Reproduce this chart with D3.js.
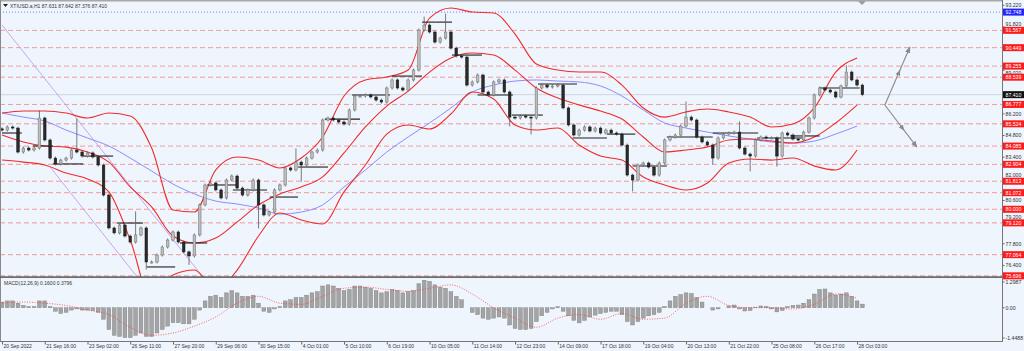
<!DOCTYPE html>
<html>
<head>
<meta charset="utf-8">
<title>XTIUSD.a,H1</title>
<script src="https://d3js.org/d3.v7.min.js"></script>
<style>
  body { margin: 0; padding: 0; overflow: hidden; background: #eef5fd; }
  text { font-family: "Liberation Sans", Arial, sans-serif; fill: #333; }
</style>
</head>
<body>
<script>
// H1 closes, one value per slot (every ~5 hours of the original)
var firstOpen = 85.2;
var closes = [
  85.12, 85.32, 85.25, 83.70, 83.96, 83.83, 83.96, 85.90, 84.48, 83.31,
  82.93, 83.18, 83.31, 83.83, 83.70, 83.44, 83.64, 83.38, 82.86, 80.92,
  78.79, 78.47, 78.98, 78.27, 77.88, 78.34, 78.79, 76.59, 76.59, 77.04,
  77.56, 78.01, 78.53, 77.88, 77.24, 76.98, 78.34, 80.28, 81.57, 81.70,
  81.25, 80.73, 81.89, 82.15, 81.37, 80.92, 81.25, 81.89, 80.28, 79.63,
  79.82, 81.25, 81.57, 82.67, 82.54, 83.05, 82.86, 83.31, 83.70, 83.83,
  85.77, 85.90, 85.77, 85.64, 85.51, 86.42, 87.32, 87.32, 87.39, 87.26,
  87.06, 86.93, 87.84, 88.36, 87.84, 87.71, 88.36, 89.00, 91.59, 91.91,
  91.46, 90.81, 91.07, 91.46, 90.42, 89.91, 89.84, 88.03, 88.23, 88.68,
  87.58, 87.39, 88.23, 88.36, 87.58, 85.96, 85.90, 86.03, 85.96, 85.90,
  87.84, 88.03, 87.90, 87.97, 88.03, 86.55, 85.45, 84.80, 85.12, 85.32,
  85.06, 85.25, 84.93, 85.12, 84.93, 84.86, 84.15, 82.21, 81.89, 82.86,
  82.99, 82.73, 82.21, 82.99, 84.48, 84.67, 84.80, 85.38, 85.96, 85.77,
  84.67, 84.35, 84.15, 83.31, 84.61, 84.86, 84.93, 84.99, 83.96, 83.57,
  83.44, 84.48, 84.67, 84.61, 84.61, 83.44, 84.93, 84.80, 84.54, 84.48,
  84.99, 85.90, 87.39, 87.84, 87.71, 87.58, 87.26, 87.97, 88.87, 88.36,
  88.03, 87.41
];
// extreme wicks [slot, price]
var wicks = [
  [7, 86.29], [14, 85.77], [25, 79.76], [27, 76.20], [35, 76.50], [48, 78.85],
  [55, 83.83], [56, 81.89], [79, 92.36], [83, 92.56], [95, 85.45], [99, 84.93],
  [118, 81.25], [128, 86.87], [133, 82.99], [138, 85.58], [140, 82.54],
  [145, 82.86], [158, 89.20]
];

// Bollinger bands and blue moving average, one value every 4 slots
var bandStep = 4;
var bbUpper = [
  86.22, 86.35, 86.35, 86.22, 85.90, 86.22, 86.03, 83.96, 79.95, 79.82,
  82.54, 83.38, 83.18, 82.67, 83.31, 84.67, 87.32, 88.36, 88.55, 89.00,
  92.36, 93.01, 92.75, 92.69, 91.33, 89.39, 89.00, 88.87, 88.87, 88.03,
  86.55, 85.96, 86.29, 86.48, 86.29, 85.96, 85.32, 85.51, 86.55, 88.87,
  89.78
];
var bbMiddle = [
  84.80, 84.35, 84.09, 84.02, 83.70, 83.05, 81.44, 80.15, 78.27, 77.82,
  78.14, 79.18, 80.28, 80.99, 81.44, 82.09, 83.64, 85.32, 86.67, 87.64,
  88.87, 89.78, 90.10, 89.97, 89.00, 87.84, 87.19, 86.74, 86.35, 85.83,
  84.67, 83.70, 83.83, 84.02, 84.48, 84.54, 84.41, 84.28, 84.67, 85.58,
  86.74
];
var bbLower = [
  83.18, 83.05, 82.86, 82.34, 81.96, 81.12, 78.01, 74.13, 75.75, 76.07,
  74.78, 76.07, 78.27, 79.76, 79.31, 79.05, 81.12, 82.86, 84.86, 85.45,
  85.19, 86.16, 87.58, 87.13, 85.45, 85.12, 85.25, 84.15, 83.44, 83.18,
  82.09, 81.57, 81.25, 81.70, 82.99, 83.25, 83.18, 83.31, 82.80, 82.54,
  83.83
];
var maBlue = [
  86.22, 85.96, 85.71, 85.12, 84.61, 84.09, 83.31, 82.47, 81.63, 80.99,
  80.53, 80.34, 80.08, 79.69, 79.82, 80.28, 81.44, 82.54, 83.70, 84.67,
  85.58, 86.55, 87.58, 88.03, 88.29, 88.36, 88.29, 88.23, 87.97, 87.32,
  86.42, 85.58, 85.25, 84.99, 84.74, 84.54, 84.35, 84.28, 84.41, 84.86,
  85.38
];

// daily open segments [fromSlot, toSlot, price]
var dayLines = [
  [0, 3.7, 84.93], [5.8, 9.5, 84.09], [9.5, 15.2, 82.93], [15.2, 20.8, 83.44],
  [21.5, 26.4, 79.11], [27.1, 32.4, 76.27], [33.3, 38.4, 77.82], [38.4, 44, 81.57],
  [43.2, 49.6, 81.25], [50.1, 55.4, 80.79], [55.4, 61, 82.73], [60.4, 67, 85.83],
  [65.5, 72.6, 87.39], [73, 78.6, 88.61], [78.6, 84.2, 92.10], [84.2, 89.8, 89.97],
  [89, 95.6, 87.39], [95.4, 101.2, 86.09], [100.3, 107.6, 88.10], [106.8, 113.2, 84.61],
  [113.2, 118.5, 84.86], [118, 124.4, 82.80], [124.4, 133, 84.67], [133, 141.5, 84.93],
  [141.3, 149.9, 84.61], [147.5, 153, 84.74], [153, 160.5, 87.84]
];

// falling channel [[slot, price], [slot, price]]
var channel = [
  [[0, 91.91], [37.6, 75.62]],
  [[9, 82.73], [25.3, 75.62]]
];

// forecast arrows
var arrowFrom = [165.2, 86.74];
var arrowTo = [[169.9, 90.49], [171.2, 84.02]];

// horizontal levels
var redLevels = [91.567, 90.449, 89.255, 88.539, 86.777, 85.524, 84.085, 82.904,
                 81.813, 81.072, 80.000, 79.120, 77.064, 75.696];
var blueLevel = 92.748;
var lastPrice = 87.410;
var priceTicks = [93.22, 91.82, 89.02, 86.2, 84.8, 83.4, 82.0, 80.6, 79.2, 77.8, 76.4];

var timeLabels = ["20 Sep 2022", "21 Sep 16:00", "23 Sep 02:00", "26 Sep 11:00", "27 Sep 20:00",
  "29 Sep 06:00", "30 Sep 15:00", "4 Oct 01:00", "5 Oct 10:00", "6 Oct 19:00", "10 Oct 05:00",
  "11 Oct 14:00", "12 Oct 23:00", "14 Oct 09:00", "17 Oct 18:00", "19 Oct 04:00", "20 Oct 13:00",
  "21 Oct 22:00", "25 Oct 08:00", "26 Oct 17:00", "28 Oct 03:00"];
var timeLabelStep = 8;

// MACD(12,26,9): main per slot, signal every 4 slots
var macdMain = [
  0.25, 0.3, 0.3, 0.2, 0.1, 0.05, 0.05, 0.3, 0.3, 0.05,
  -0.15, -0.25, -0.2, -0.1, -0.05, -0.1, -0.1, -0.12, -0.2, -0.5,
  -0.95, -1.2, -1.25, -1.3, -1.3, -1.2, -1.1, -1.25, -1.25, -1.1,
  -0.95, -0.8, -0.65, -0.65, -0.7, -0.7, -0.5, -0.1, 0.3, 0.5,
  0.55, 0.45, 0.65, 0.75, 0.65, 0.5, 0.5, 0.55, 0.2, -0.15,
  -0.2, -0.05, 0.05, 0.3, 0.35, 0.45, 0.45, 0.55, 0.65, 0.7,
  0.95, 1.0, 0.95, 0.85, 0.75, 0.8, 0.95, 0.95, 0.9, 0.85,
  0.75, 0.65, 0.7, 0.8, 0.75, 0.65, 0.7, 0.75, 1.05, 1.2,
  1.15, 1.0, 0.9, 0.85, 0.7, 0.5, 0.35, 0.0, -0.2, -0.3,
  -0.45, -0.5, -0.45, -0.4, -0.45, -0.75, -0.9, -0.95, -0.95, -0.9,
  -0.6, -0.35, -0.2, -0.05, 0.05, -0.15, -0.35, -0.55, -0.66, -0.55,
  -0.4, -0.32, -0.25, -0.2, -0.15, -0.15, -0.3, -0.6, -0.75, -0.6,
  -0.45, -0.35, -0.3, -0.2, 0.05, 0.3, 0.5, 0.58, 0.65, 0.62,
  0.45, 0.25, 0.0, -0.1, -0.05, 0.0, 0.08, 0.12, -0.05, -0.14,
  -0.12, 0.03, 0.08, 0.06, -0.05, -0.18, -0.12, 0.05, 0.1, 0.12,
  0.2, 0.35, 0.6, 0.8, 0.82, 0.65, 0.56, 0.6, 0.65, 0.5,
  0.3, 0.16
];
var macdSignal = [
  0.2, 0.25, 0.2, 0.1, -0.1, -0.3, -0.85, -1.2, -1.1, -0.8,
  -0.4, 0.2, 0.5, 0.2, 0.15, 0.5, 0.85, 0.9, 0.8, 0.72,
  0.85, 1.0, 0.6, 0.0, -0.45, -0.85, -0.45, -0.3, -0.5, -0.25,
  -0.5, -0.45, 0.2, 0.5, 0.1, 0.0, 0.0, -0.05, 0.15, 0.6,
  0.42
];
var macdMax = 1.2987, macdMin = -1.4488;

// ---- layout ----
var width = 1024, height = 351;
var axisX = 1002, mainBottom = 277, macdTop = 278, macdBottom = 341;

var svg = d3.select("body").append("svg")
  .attr("width", width).attr("height", height);

var x = d3.scaleLinear().domain([0, 161]).range([2, 862.4]);
var y = d3.scaleLinear().domain([75.62, 93.53]).range([mainBottom, 0]);
var ym = d3.scaleLinear().domain([macdMin, macdMax]).range([macdBottom, macdTop]);

svg.append("rect").attr("width", width).attr("height", height).attr("fill", "#eef5fd");

var defs = svg.append("defs");
defs.append("clipPath").attr("id", "clipMain").append("rect")
  .attr("x", 0).attr("y", 1).attr("width", axisX).attr("height", mainBottom - 1);
defs.append("clipPath").attr("id", "clipMacd").append("rect")
  .attr("x", 0).attr("y", macdTop).attr("width", axisX).attr("height", macdBottom - macdTop);
defs.append("marker").attr("id", "arrow").attr("viewBox", "0 0 10 10")
  .attr("refX", 9).attr("refY", 5).attr("markerWidth", 6).attr("markerHeight", 6)
  .attr("orient", "auto")
  .append("path").attr("d", "M0,1 L10,5 L0,9 Z").attr("fill", "#8a8a8a");

var main = svg.append("g").attr("clip-path", "url(#clipMain)");

// levels
main.selectAll("line.lvl").data(redLevels).join("line")
  .attr("class", "lvl")
  .attr("x1", 0).attr("x2", axisX)
  .attr("y1", d => y(d)).attr("y2", d => y(d))
  .attr("stroke", "#f29a9a").attr("stroke-width", 1).attr("stroke-dasharray", "5,3");
main.append("line")
  .attr("x1", 0).attr("x2", axisX).attr("y1", y(blueLevel)).attr("y2", y(blueLevel))
  .attr("stroke", "#7b7bff").attr("stroke-dasharray", "1,2");
main.append("line")
  .attr("x1", 0).attr("x2", axisX).attr("y1", y(lastPrice)).attr("y2", y(lastPrice))
  .attr("stroke", "#cfd6de");

// channel
main.selectAll("line.chan").data(channel).join("line")
  .attr("class", "chan")
  .attr("x1", d => x(d[0][0])).attr("y1", d => y(d[0][1]))
  .attr("x2", d => x(d[1][0])).attr("y2", d => y(d[1][1]))
  .attr("stroke", "#c9a6ea").attr("stroke-width", 1);

// bands
var bandLine = d3.line()
  .x((d, i) => x(i * bandStep))
  .y(d => y(d))
  .curve(d3.curveMonotoneX);
main.append("path").datum(maBlue).attr("d", bandLine)
  .attr("fill", "none").attr("stroke", "#8c8cff").attr("stroke-width", 1);
[bbUpper, bbMiddle, bbLower].forEach(s => {
  main.append("path").datum(s).attr("d", bandLine)
    .attr("fill", "none").attr("stroke", "#f22a2a").attr("stroke-width", 1.1);
});

// daily segments
main.selectAll("line.day").data(dayLines).join("line")
  .attr("class", "day")
  .attr("x1", d => x(d[0])).attr("x2", d => x(d[1]))
  .attr("y1", d => y(d[2])).attr("y2", d => y(d[2]))
  .attr("stroke", "#1e1e1e").attr("stroke-width", 1.1);

// candles
var wickMap = new Map(wicks);
var candles = closes.map((c, i) => {
  var o = i === 0 ? firstOpen : closes[i - 1];
  var hi = Math.max(o, c), lo = Math.min(o, c);
  var w = wickMap.get(i);
  if (w !== undefined) { if (w > hi) hi = w; else if (w < lo) lo = w; }
  return { i: i, o: o, c: c, h: hi, l: lo };
});
var cg = main.append("g");
cg.selectAll("line").data(candles).join("line")
  .attr("x1", d => x(d.i)).attr("x2", d => x(d.i))
  .attr("y1", d => y(d.h) - 1.5).attr("y2", d => y(d.l) + 1.5)
  .attr("stroke", "#5a5a5a").attr("stroke-width", 0.8);
cg.selectAll("rect").data(candles).join("rect")
  .attr("x", d => x(d.i) - 1.3).attr("width", 2.6)
  .attr("y", d => y(Math.max(d.o, d.c)))
  .attr("height", d => Math.max(1, Math.abs(y(d.o) - y(d.c))))
  .attr("fill", d => d.c >= d.o ? "#bdbdbd" : "#2a2a2a")
  .attr("stroke", d => d.c >= d.o ? "#707070" : "#151515").attr("stroke-width", 0.5);

// forecast arrows
arrowTo.forEach(t => {
  var x0 = x(arrowFrom[0]), y0 = y(arrowFrom[1]), x1 = x(t[0]), y1 = y(t[1]);
  main.append("line").attr("x1", x0).attr("y1", y0).attr("x2", x1).attr("y2", y1)
    .attr("stroke", "#8a8a8a").attr("stroke-width", 1.1).attr("marker-end", "url(#arrow)");
  main.append("line").attr("x1", x0).attr("y1", y0)
    .attr("x2", (x0 + x1) / 2 + (x1 - x0) * 0.1).attr("y2", (y0 + y1) / 2 + (y1 - y0) * 0.1)
    .attr("stroke", "none").attr("marker-end", "url(#arrow)");
});

// top-right small marker
svg.append("path").attr("d", "M858,1 L866,1 L862,5 Z").attr("fill", "#9a9a9a");

// MACD panel
var mg = svg.append("g").attr("clip-path", "url(#clipMacd)");
mg.selectAll("rect").data(macdMain).join("rect")
  .attr("x", (d, i) => x(i) - 1.9).attr("width", 3.8)
  .attr("y", d => Math.min(ym(0), ym(d)))
  .attr("height", d => Math.abs(ym(d) - ym(0)))
  .attr("fill", "#a4a4a4").attr("stroke", "#7c7c7c").attr("stroke-width", 0.4);
mg.append("path").datum(macdSignal)
  .attr("d", d3.line().x((d, i) => x(i * bandStep)).y(d => ym(d)).curve(d3.curveMonotoneX))
  .attr("fill", "none").attr("stroke", "#ff3b3b").attr("stroke-width", 0.8)
  .attr("stroke-dasharray", "1,1.5");

// frames
svg.append("rect").attr("x", 0).attr("y", 0).attr("width", axisX).attr("height", 1.5).attr("fill", "#a8a8a8");
svg.append("line").attr("x1", 0.5).attr("x2", 0.5).attr("y1", 0).attr("y2", macdBottom).attr("stroke", "#8a8a8a");
svg.append("rect").attr("x", 0).attr("y", mainBottom - 0.7).attr("width", axisX).attr("height", 1.6).attr("fill", "#5e5e5e");
svg.append("line").attr("x1", axisX + 0.5).attr("x2", axisX + 0.5).attr("y1", 0).attr("y2", macdBottom + 1).attr("stroke", "#777");
svg.append("line").attr("x1", 0).attr("x2", axisX + 1).attr("y1", macdBottom + 0.5).attr("y2", macdBottom + 0.5).attr("stroke", "#777");

// price axis; labels that would sit under a level box are nudged clear of it
var boxLevels = redLevels.concat([blueLevel, lastPrice]);
var boxHalf = 3.5, clearance = 6.2;
function nudge(v) {
  var d0 = y(v);
  var shift = 0;
  boxLevels.forEach(b => {
    var d = d0 - y(b);
    if (Math.abs(d) < clearance) shift = (d >= 0 ? 1 : -1) * (clearance - Math.abs(d));
  });
  return shift;
}
var py = svg.append("g").attr("transform", "translate(" + (axisX + 0.5) + ",0)")
  .call(d3.axisRight(y).tickValues(priceTicks).tickSize(2).tickFormat(d3.format(".3f")));
py.select(".domain").remove();
py.selectAll("line").attr("stroke", "#666");
py.selectAll("text").attr("x", 3)
  .attr("dy", d => (nudge(d) + 1.8) + "px")
  .style("font-size", "5.2px").style("font-family", "Liberation Sans, Arial").attr("fill", "#333");

function priceBox(v, fill) {
  var g = svg.append("g").attr("transform", "translate(" + (axisX + 1) + "," + y(v) + ")");
  g.append("rect").attr("x", 0).attr("y", -boxHalf).attr("width", 21).attr("height", boxHalf * 2).attr("fill", fill);
  g.append("text").attr("x", 2.5).attr("y", 1.9).style("font-size", "5.2px").style("fill", "#fff")
    .text(d3.format(".3f")(v));
}
redLevels.forEach(v => priceBox(v, "#ff1a1a"));
priceBox(blueLevel, "#2424ff");
priceBox(lastPrice, "#111");

// MACD axis labels
[[macdMax, "1.2987", 4], [0, "0.00", 0], [macdMin, "-1.4488", -3]].forEach(d => {
  svg.append("line").attr("x1", axisX + 0.5).attr("x2", axisX + 2.5)
    .attr("y1", ym(d[0]) + d[2]).attr("y2", ym(d[0]) + d[2]).attr("stroke", "#666");
  svg.append("text").attr("x", axisX + 3.5).attr("y", ym(d[0]) + d[2] + 1.9)
    .style("font-size", "5.2px").text(d[1]);
});

// time axis
var tg = svg.append("g");
tg.selectAll("line").data(timeLabels).join("line")
  .attr("x1", (d, i) => x(i * timeLabelStep) + 0.5).attr("x2", (d, i) => x(i * timeLabelStep) + 0.5)
  .attr("y1", macdBottom + 1).attr("y2", macdBottom + 3.5).attr("stroke", "#666");
tg.selectAll("text").data(timeLabels).join("text")
  .attr("x", (d, i) => x(i * timeLabelStep) + 1.5).attr("y", macdBottom + 7)
  .style("font-size", "5px").text(d => d);

// titles
svg.append("path").attr("d", "M3,4 L8,4 L5.5,7 Z").attr("fill", "#222");
svg.append("text").attr("x", 10).attr("y", 7.5).style("font-size", "5px")
  .text("XTIUSD.a,H1  87.631 87.642 87.376 87.410");
svg.append("text").attr("x", 4).attr("y", 284.5).style("font-size", "5px")
  .text("MACD(12,26,9) 0.1600 0.3796");
</script>
</body>
</html>
